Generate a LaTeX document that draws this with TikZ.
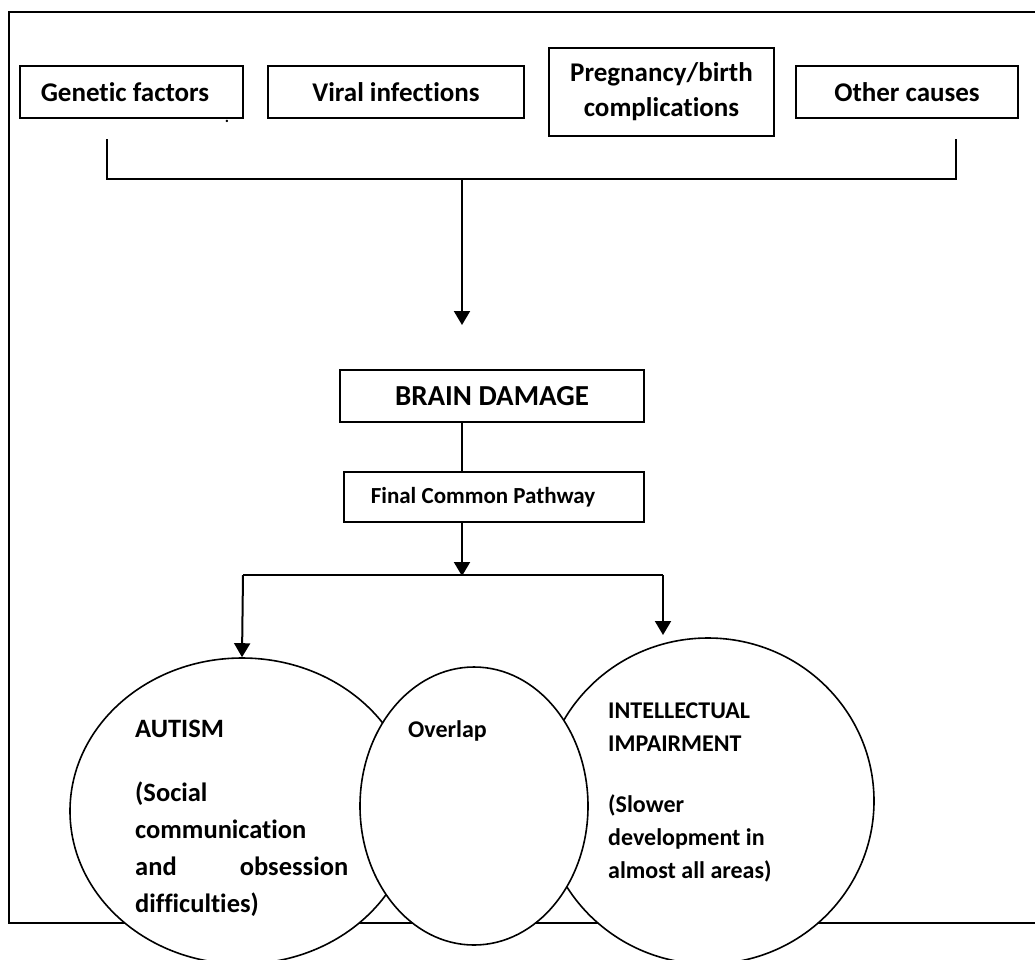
\documentclass[tikz,border=0pt]{standalone}
\usepackage{fontspec}
\setmainfont{Carlito}[Ligatures={NoCommon,NoRare}]
\usetikzlibrary{arrows.meta,shapes.geometric}
\begin{document}
\begin{tikzpicture}[x=1pt,y=-1pt,
  box/.style={draw, line width=2pt, inner sep=0pt, font=\bfseries\fontsize{27}{35}\selectfont},
  conn/.style={line width=2pt},
  arr/.style={conn, -{Triangle[width=16pt,length=14pt]}},
  blob/.style={draw, line width=1.6pt, fill=white, ellipse, inner sep=0pt},
  lbl/.style={font=\bfseries\fontsize{24}{37}\selectfont, inner sep=0pt, align=left}]
\useasboundingbox (0,0) rectangle (1035,959);
\clip (0,0) rectangle (1035,959);
\fill[white] (0,0) rectangle (1035,959);
% frame
\draw[line width=2pt] (1045,12) -- (9,12) -- (9,923) -- (1045,923);
% cause boxes
\node[box, minimum width=223pt, minimum height=52pt] (gen) at (131.5,92) {Genetic factors\hspace*{13pt}};
\node[box, minimum width=256pt, minimum height=52pt] (vir) at (396,92) {Viral infections};
\node[box, minimum width=225pt, minimum height=88pt, align=center] (preg) at (661.5,92) {Pregnancy/birth\\complications};
\node[box, minimum width=222pt, minimum height=52pt] (oth) at (907,92) {Other causes};
\node[font=\bfseries\fontsize{16}{16}\selectfont, inner sep=0pt] (dot) at (227,121) {.};
% bracket
\coordinate (bl) at (107,139);
\coordinate (br) at (956,139);
\coordinate (bm) at (462,179);
\coordinate (t1) at (462,325);
\draw[conn] (bl) -- (bl |- bm) -- (br |- bm) -- (br);
\draw[arr] (bm) -- (t1);
% brain damage and pathway
\node[box, font=\bfseries\fontsize{29}{34}\selectfont, minimum width=304pt, minimum height=52pt] (brain) at (492,396) {BRAIN DAMAGE};
\node[box, font=\bfseries\fontsize{23}{26}\selectfont, minimum width=300pt, minimum height=50pt] (fcp) at (494,497) {Final Common Pathway\hspace*{22pt}};
\draw[conn] (brain.south -| bm) -- (fcp.north -| bm);
\coordinate (jn) at (462,576);
\coordinate (hl) at (243,575);
\coordinate (hr) at (663,575);
\coordinate (t3) at (663,635);
\draw[arr] (fcp.south -| bm) -- (jn);
\draw[conn] (hl) -- (hr);
% outcome circles
\node[blob, minimum width=344pt, minimum height=306pt] (aut) at (242,811) {};
\node[blob, minimum width=332pt, minimum height=326pt] (intel) at (708,801) {};
\node[blob, minimum width=228pt, minimum height=278pt] (ovl) at (474,806) {};
\draw[arr] (hl) -- (aut.north);
\draw[arr] (hr) -- (t3);
% texts in circles
\node[lbl, font=\bfseries\fontsize{26.5}{37}\selectfont, anchor=north west] (autt) at (135,720) {AUTISM\\[27pt](Social\\communication\\\makebox[213pt][s]{and obsession}\\difficulties)};
\node[lbl, anchor=north west] (ovlt) at (408,720) {Overlap};
\node[lbl, font=\bfseries\fontsize{24}{33}\selectfont, anchor=north west] (intelt) at (608,703) {INTELLECTUAL\\IMPAIRMENT\\[28pt](Slower\\development in\\almost all areas)};
\end{tikzpicture}
\end{document}
